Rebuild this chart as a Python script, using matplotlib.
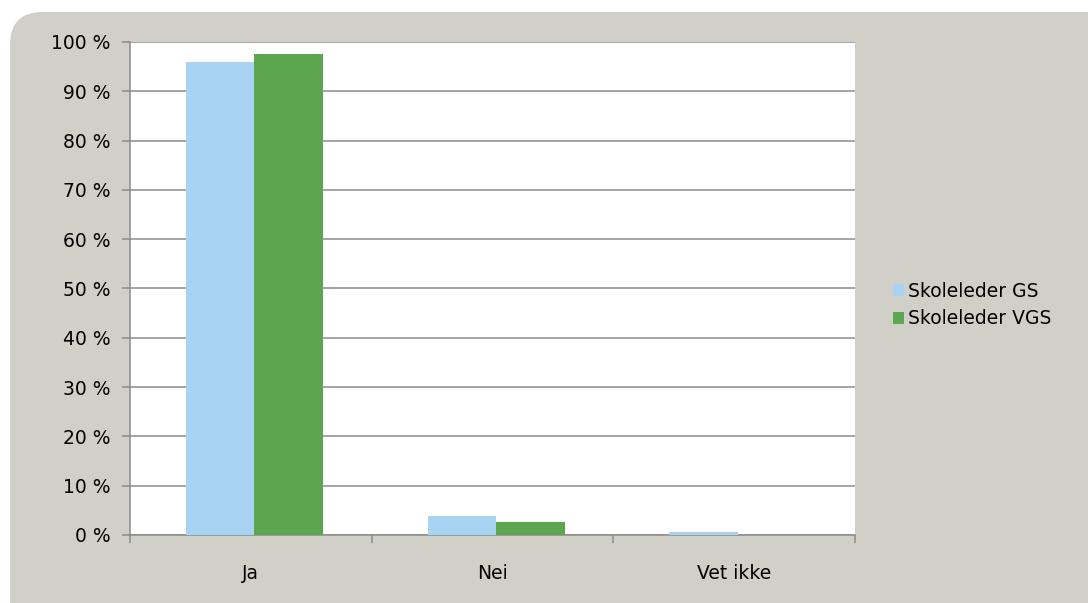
import matplotlib
matplotlib.use("Agg")
import matplotlib.pyplot as plt
from matplotlib.patches import FancyBboxPatch, Patch
import numpy as np

categories = ["Ja", "Nei", "Vet ikke"]
series_names = ["Skoleleder GS", "Skoleleder VGS"]
gs_values = [95.9, 3.9, 0.7]
vgs_values = [97.6, 2.7, 0.0]
colors = ["#A9D3F2", "#5DA650"]
bg = "#D0D0C8"

fig = plt.figure(figsize=(10.88, 6.03), dpi=100)
fig.patch.set_facecolor("white")
box = FancyBboxPatch((10 / 1088, -0.1), 1.2, 0.1 + 591 / 603,
                     boxstyle="round,pad=0,rounding_size=0.03",
                     transform=fig.transFigure, facecolor=bg, edgecolor="none",
                     mutation_aspect=1088 / 603, zorder=-10)
fig.patches.append(box)

ax = fig.add_axes([130 / 1088, 68 / 603, 725 / 1088, 493 / 603])
ax.set_facecolor("white")

fs = 13.5
x = np.arange(len(categories))
w = 0.283
ax.bar(x - w / 2 + 0.015, gs_values, w, color=colors[0], zorder=3, label=series_names[0])
ax.bar(x + w / 2 + 0.015, vgs_values, w, color=colors[1], zorder=3, label=series_names[1])

ax.set_xlim(-0.5, 2.5)
ax.set_ylim(0, 100)
ax.set_yticks(range(0, 101, 10))
ax.set_yticklabels([f"{v} %" for v in range(0, 101, 10)], fontsize=fs)
ax.yaxis.grid(True, color="#8C8C8C", linewidth=1.1, zorder=1)
ax.set_xticks(x)
ax.set_xticklabels(categories, fontsize=fs)
ax.tick_params(axis="x", length=0, pad=21)
ax.set_xticks([-0.5, 0.5, 1.5, 2.5], minor=True)
ax.tick_params(axis="x", which="minor", length=6, color="#8C8C8C", width=1.1)
ax.tick_params(axis="y", length=6, color="#8C8C8C", width=1.1, pad=8)

for s in ["top", "right"]:
    ax.spines[s].set_visible(False)
for s in ["left", "bottom"]:
    ax.spines[s].set_color("#8C8C8C")
    ax.spines[s].set_linewidth(1.1)

handles = [Patch(facecolor=c, edgecolor="none") for c in colors]
fig.legend(handles, series_names, loc="center left",
           bbox_to_anchor=(876 / 1088, 1 - 305 / 603), frameon=False,
           fontsize=fs, handlelength=0.6, handleheight=0.6, handletextpad=0.2,
           labelspacing=0.45)

fig.savefig("out.png", dpi=100, facecolor=fig.get_facecolor())
